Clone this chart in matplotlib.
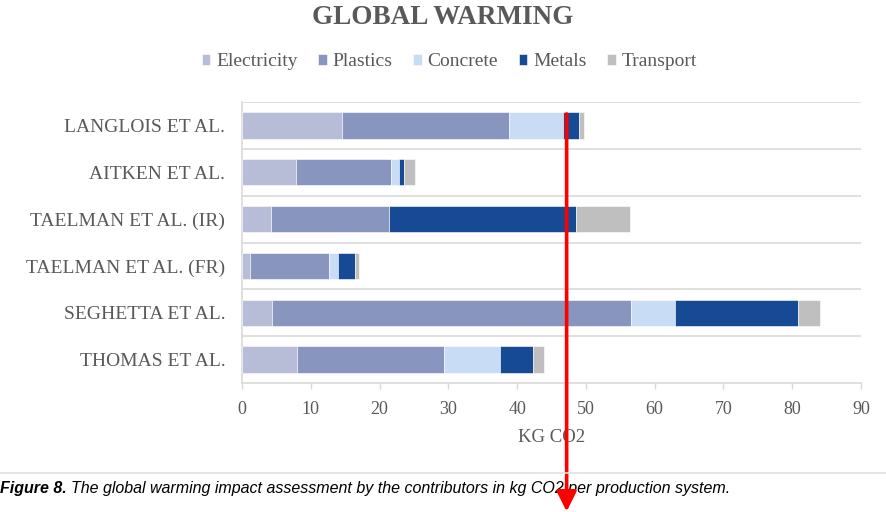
import matplotlib
matplotlib.use("Agg")
from matplotlib import pyplot as plt

# kg CO2 per production system, split by contributor
studies = [
    "LANGLOIS ET AL.",
    "AITKEN ET AL.",
    "TAELMAN ET AL. (IR)",
    "TAELMAN ET AL. (FR)",
    "SEGHETTA ET AL.",
    "THOMAS ET AL.",
]
electricity = [14.6, 7.9, 4.2, 1.1, 4.3, 8.0]
plastics = [24.2, 13.7, 17.2, 11.5, 52.2, 21.4]
concrete = [7.8, 1.2, 0.0, 1.3, 6.5, 8.1]
metals = [2.4, 0.7, 27.2, 2.6, 17.9, 4.8]
transport = [0.7, 1.6, 7.8, 0.5, 3.1, 1.6]

series = [
    ("Electricity", electricity, "#b7bdd7"),
    ("Plastics", plastics, "#8895bf"),
    ("Concrete", concrete, "#c8dcf5"),
    ("Metals", metals, "#164a94"),
    ("Transport", transport, "#bfbfbf"),
]
xticks = list(range(0, 100, 10))
marker_x = 47.2

serif = "Liberation Serif"
gray = "#595959"
grid = "#d9d9d9"
W, H = 886, 512

fig = plt.figure(figsize=(W / 100, H / 100), dpi=100)
ax = fig.add_axes([242 / W, 1 - 383 / H, (861 - 242) / W, (383 - 102) / H])

ypos = list(range(len(studies)))[::-1]
left = [0.0] * len(studies)
for name, vals, color in series:
    ax.barh(ypos, vals, left=left, height=0.56, color=color, label=name,
            edgecolor="white", linewidth=0.4, zorder=3)
    left = [a + b for a, b in zip(left, vals)]

ax.set_xlim(0, 90)
ax.set_ylim(-0.5, len(studies) - 0.5)
for b in range(len(studies)):
    ax.axhline(b + 0.5, color=grid, lw=1.2, zorder=1)

ax.set_yticks(ypos)
ax.set_yticklabels(studies, family=serif, fontsize=14, color=gray)
ax.tick_params(axis="y", length=0, pad=12)
ax.set_xticks(xticks)
ax.set_xticklabels([str(t) for t in xticks], family=serif,
                   fontsize=13, color=gray)
ax.tick_params(axis="x", length=4, width=1, color=grid, pad=9)
ax.set_xlabel("KG CO2", family=serif, fontsize=13.5, color=gray, labelpad=8)

for s in ["top", "right"]:
    ax.spines[s].set_visible(False)
for s in ["bottom", "left"]:
    ax.spines[s].set_color(grid)
    ax.spines[s].set_linewidth(1.2)

fig.text(0.5, 1 - 18 / H, "GLOBAL WARMING", ha="center", va="center",
         family=serif, fontweight="bold", fontsize=19.5, color=gray)

fig.legend(loc="center", bbox_to_anchor=(0.507, 1 - 62 / H), ncol=5,
           frameon=False, handlelength=0.45, handleheight=0.45,
           handletextpad=0.3, columnspacing=1.05,
           prop={"family": serif, "size": 14},
           labelcolor=gray)

# caption and separator
fig.add_artist(plt.Line2D([0, 1], [1 - 473 / H, 1 - 473 / H],
                          transform=fig.transFigure, color="#e0e0e0", lw=1.2))
head = fig.text(0.0, 1 - 488 / H, "Figure 8.", ha="left", va="center",
                family="Liberation Sans", style="italic", fontweight="bold",
                fontsize=11.5, color="black")
ax.annotate("The global warming impact assessment by the contributors in kg CO2 per production system.",
            xy=(1, 0.5), xycoords=head, xytext=(3, 0), textcoords="offset points",
            ha="left", va="center", family="Liberation Sans", style="italic",
            fontsize=11.5, color="black", annotation_clip=False)

# red marker arrow running down through the chart
ax.annotate("", xy=(marker_x, 0.001), xycoords=("data", "figure fraction"),
            xytext=(marker_x, 1 - 114 / H), textcoords=("data", "figure fraction"),
            arrowprops=dict(arrowstyle="-|>,head_length=0.6,head_width=0.3",
                            mutation_scale=20, color="red", lw=2.6,
                            shrinkA=0, shrinkB=0),
            annotation_clip=False, zorder=10)

fig.savefig("out.png", dpi=100)
